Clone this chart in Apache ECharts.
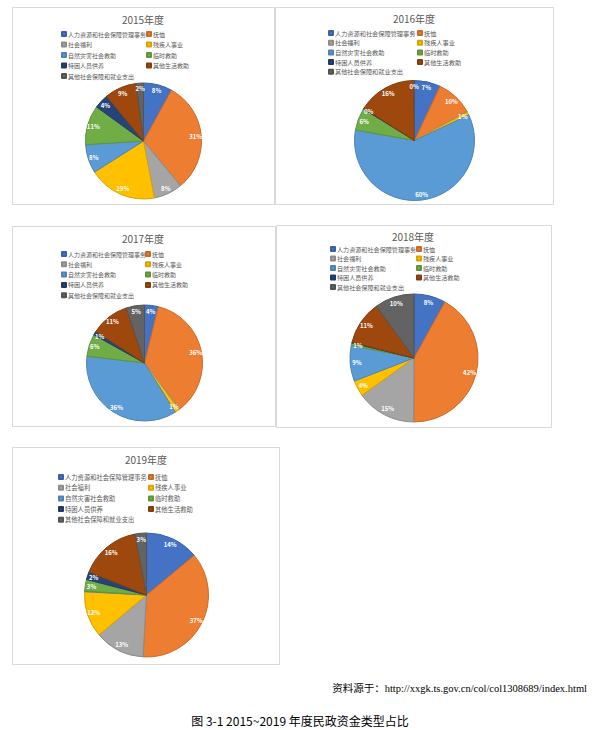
<!DOCTYPE html>
<html><head><meta charset="utf-8">
<script src="https://cdn.jsdelivr.net/npm/echarts@6/dist/echarts.min.js"></script>
<style>html,body{margin:0;padding:0;background:#fff}#c{width:600px;height:730px}</style>
</head><body><div id="c"></div>
<script>
// ---- data ----
const categories = ['人力资源和社会保障管理事务','抚恤','社会福利','残疾人事业','自然灾害社会救助','临时救助','特困人员供养','其他生活救助','其他社会保障和就业支出'];
const years = ['2015年度','2016年度','2017年度','2018年度','2019年度'];
const v2015 = [8, 31, 8, 19, 8, 11, 4, 9, 2];
const v2016 = [7, 10, 0.2, 0.8, 59.8, 6, 0.2, 15.8, 0.2];
const v2017 = [3.8, 35.8, 0.3, 1.2, 35.8, 6.2, 1, 10.8, 5.1];
const v2018 = [8, 42, 15, 4, 9, 0.6, 0.2, 11, 10];
const v2019 = [14, 37, 13, 12, 0.2, 3, 2, 16, 3];
const colors = ['#4472C4','#ED7D31','#A5A5A5','#FFC000','#5B9BD5','#70AD47','#264478','#9E480E','#636363'];
const sourceText = '资料源于：http://xxgk.ts.gov.cn/col/col1308689/index.html';
const captionText = '图 3-1 2015~2019 年度民政资金类型占比';
const allValues = [v2015, v2016, v2017, v2018, v2019];

// ---- layout ----
const layouts = [
  {box:[12,7,262,197],  tx:143, ty:19,  lx:[61,146],  ly:34,  step:10.5, c:[143.5,141], r:58, fs:6.0},
  {box:[275,7,278,197], tx:414, ty:18,  lx:[328,417], ly:33,  step:9.7,  c:[414.5,140.5], r:60, fs:6.2},
  {box:[12,226,263,200],tx:143, ty:238, lx:[61,145],  ly:254, step:10.3, c:[144.5,363], r:58, fs:6.0},
  {box:[276,225,275,202],tx:413,ty:236, lx:[330,416], ly:249, step:9.5,  c:[414,358], r:64, fs:6.1},
  {box:[12,447,267,217],tx:146, ty:459, lx:[58,148],  ly:477, step:10.7, c:[146.5,595], r:62, fs:6.3}
];
const FONT = "'Noto Sans CJK SC', 'Noto Sans', sans-serif";
function darken(hex, f){
  const n = parseInt(hex.slice(1),16);
  const r = Math.round(((n>>16)&255)*f), g = Math.round(((n>>8)&255)*f), b = Math.round((n&255)*f);
  return 'rgb('+r+','+g+','+b+')';
}

const series = [], legends = [], graphics = [];
layouts.forEach((L, k) => {
  const vals = allValues[k];
  graphics.push({type:'rect', z:-10, shape:{x:L.box[0]+0.5, y:L.box[1]+0.5, width:L.box[2], height:L.box[3]},
    style:{fill:'#fff', stroke:'#d9d9d9', lineWidth:1}});
  graphics.push({type:'text', x:L.tx, y:L.ty, style:{text:years[k], fill:'#595959', fontSize:10, fontFamily:FONT,
    align:'center', verticalAlign:'middle', textAlign:'center', textVerticalAlign:'middle'}});
  const cols = [[0,2,4,6,8],[1,3,5,7]];
  cols.forEach((idx, j) => {
    legends.push({
      orient:'vertical', left:L.lx[j], top:L.ly-3.5, padding:0, itemGap:L.step-7,
      itemWidth:4, itemHeight:4, icon:'rect', selectedMode:false,
      textStyle:{fontSize:L.fs, lineHeight:7, color:'#595959', fontFamily:FONT, padding:[0,0,0,-3]},
      data: idx.map(i => categories[i])
    });
  });
  series.push({
    type:'pie', center:L.c, radius:[0, L.r], startAngle:90, clockwise:true, animation:false,
    emphasis:{disabled:true}, label:{show:false}, labelLine:{show:false},
    data: vals.map((v,i) => ({name:categories[i], value:v,
      itemStyle:{color:colors[i], borderColor:darken(colors[i],0.85), borderWidth:1}}))
  });
});
layouts.forEach((L, k) => {
  const vals = allValues[k];
  series.push({
    type:'pie', center:L.c, radius:[L.r*0.7, L.r], startAngle:90, clockwise:true, animation:false, silent:true,
    emphasis:{disabled:true}, labelLine:{show:false},
    label:{show:true, position:'inside', color:'#fff', fontSize:6, fontWeight:'bold', fontFamily:FONT,
      formatter: p => Math.round(p.percent) + '%'},
    data: vals.map((v,i) => ({name:categories[i], value:v, itemStyle:{color:'transparent', borderWidth:0}}))
  });
});
graphics.push({type:'text', x:587, y:688, style:{text:sourceText, fill:'#000', fontSize:10.5,
  fontFamily:"'Liberation Serif', 'Noto Sans CJK SC', serif", align:'right', verticalAlign:'middle', textAlign:'right', textVerticalAlign:'middle'}});
graphics.push({type:'text', x:300, y:720, style:{text:captionText, fill:'#000', fontSize:12,
  fontFamily:FONT, align:'center', verticalAlign:'middle', textAlign:'center', textVerticalAlign:'middle'}});

const chart = echarts.init(document.getElementById('c'), null, {renderer:'svg'});
chart.setOption({
  backgroundColor:'#fff', animation:false,
  legend: legends,
  graphic: graphics,
  series: series
});
</script></body></html>
